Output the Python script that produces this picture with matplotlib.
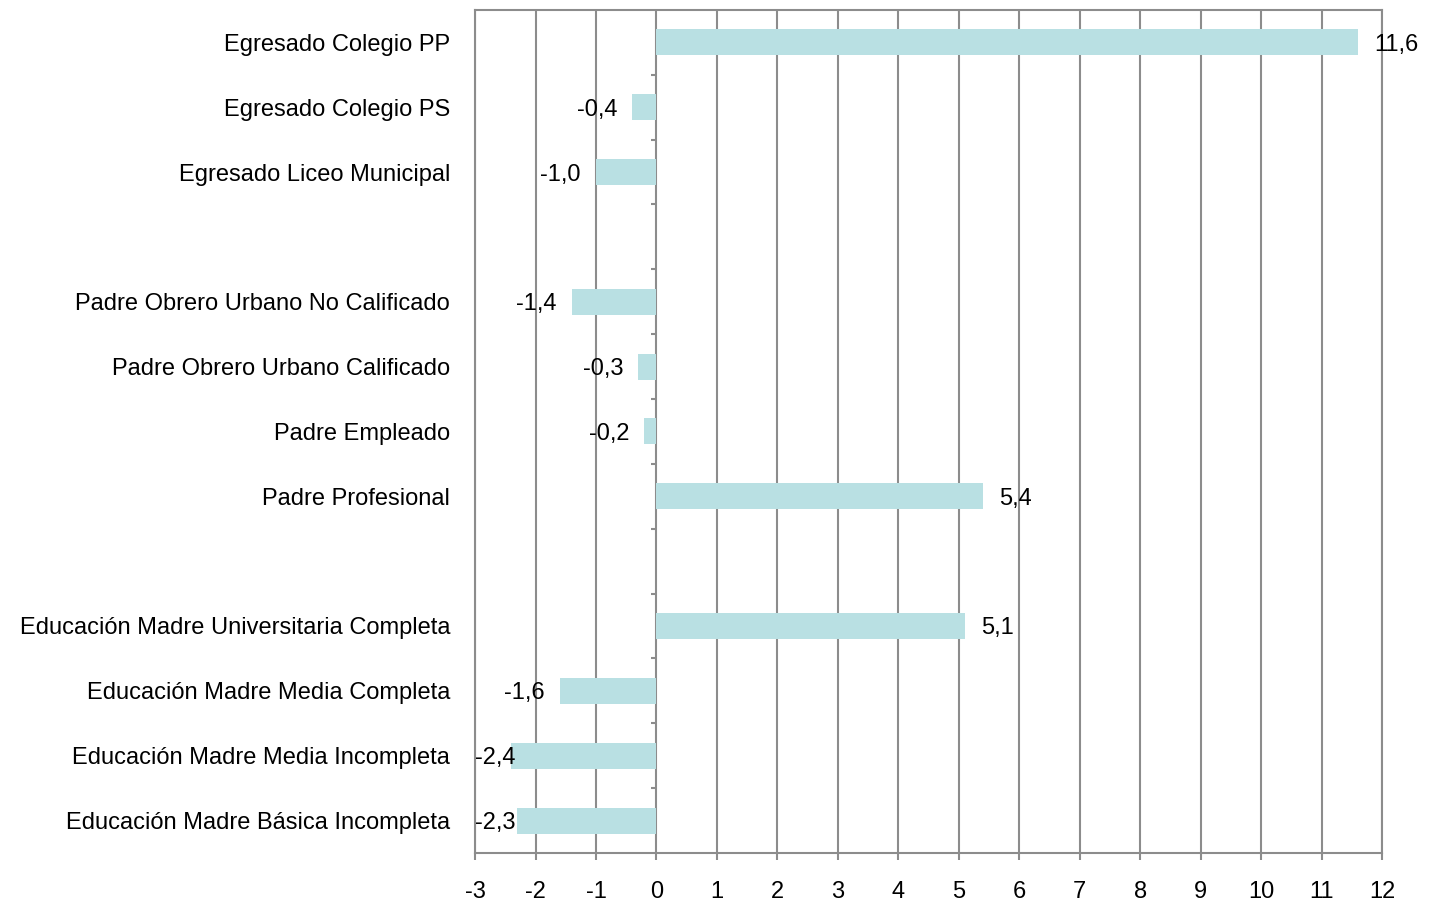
import numpy as np
import matplotlib
matplotlib.use('Agg')
from matplotlib import pyplot as plt

plt.rcParams['font.family'] = ['Liberation Sans', 'DejaVu Sans']
plt.rcParams['axes.unicode_minus'] = False

# three blocks of categories, top to bottom, separated by an empty slot
colegio = ['Egresado Colegio PP', 'Egresado Colegio PS', 'Egresado Liceo Municipal']
colegio_vals = [11.6, -0.4, -1.0]
padre = ['Padre Obrero Urbano No Calificado', 'Padre Obrero Urbano Calificado',
         'Padre Empleado', 'Padre Profesional']
padre_vals = [-1.4, -0.3, -0.2, 5.4]
madre = ['Educación Madre Universitaria Completa', 'Educación Madre Media Completa',
         'Educación Madre Media Incompleta', 'Educación Madre Básica Incompleta']
madre_vals = [5.1, -1.6, -2.4, -2.3]

xticks = list(range(-3, 13))

labels = colegio + [''] + padre + [''] + madre
values = colegio_vals + [np.nan] + padre_vals + [np.nan] + madre_vals
n = len(labels)
ypos = np.arange(n)

bar_color = '#B9E0E3'
grid_color = '#8c8c8c'
fs = 17

fig = plt.figure(figsize=(14.33, 9.01), dpi=100)
ax = fig.add_axes([0.3315, 0.0533, 0.6329, 0.9357])

ax.set_xlim(-3, 12)
ax.set_ylim(n - 0.5, -0.5)

for x in xticks:
    ax.axvline(x, color=grid_color, lw=1.5, zorder=1)

mask = ~np.isnan(values)
ax.barh(ypos[mask], np.array(values)[mask], height=0.4, color=bar_color, zorder=2)

# little tick marks on the zero line between slots
bounds = np.arange(n - 1) + 0.5
ax.hlines(bounds, -0.09, 0, color=grid_color, lw=1.5, zorder=1)

# data labels, kept inside the plot on the left like Excel does
for y, v in zip(ypos, values):
    if np.isnan(v):
        continue
    txt = f'{v:.1f}'.replace('.', ',')
    kw = dict(va='center_baseline', fontsize=fs, zorder=3)
    if v >= 0:
        ax.text(v + 0.27, y, txt, ha='left', clip_on=False, **kw)
    elif v - 0.25 - 0.72 < -3:
        ax.text(-3, y, txt, ha='left', **kw)
    else:
        ax.text(v - 0.25, y, txt, ha='right', **kw)

ax.set_yticks(ypos)
ax.set_yticklabels(labels, fontsize=fs)
ax.tick_params(axis='y', length=0, pad=18)

ax.set_xticks(xticks)
ax.set_xticklabels([str(x) for x in xticks], fontsize=fs)
ax.tick_params(axis='x', length=5, width=1.5, color=grid_color, pad=15, direction='out')

for s in ax.spines.values():
    s.set_color(grid_color)
    s.set_linewidth(1.5)

fig.savefig('out.png', dpi=100)
